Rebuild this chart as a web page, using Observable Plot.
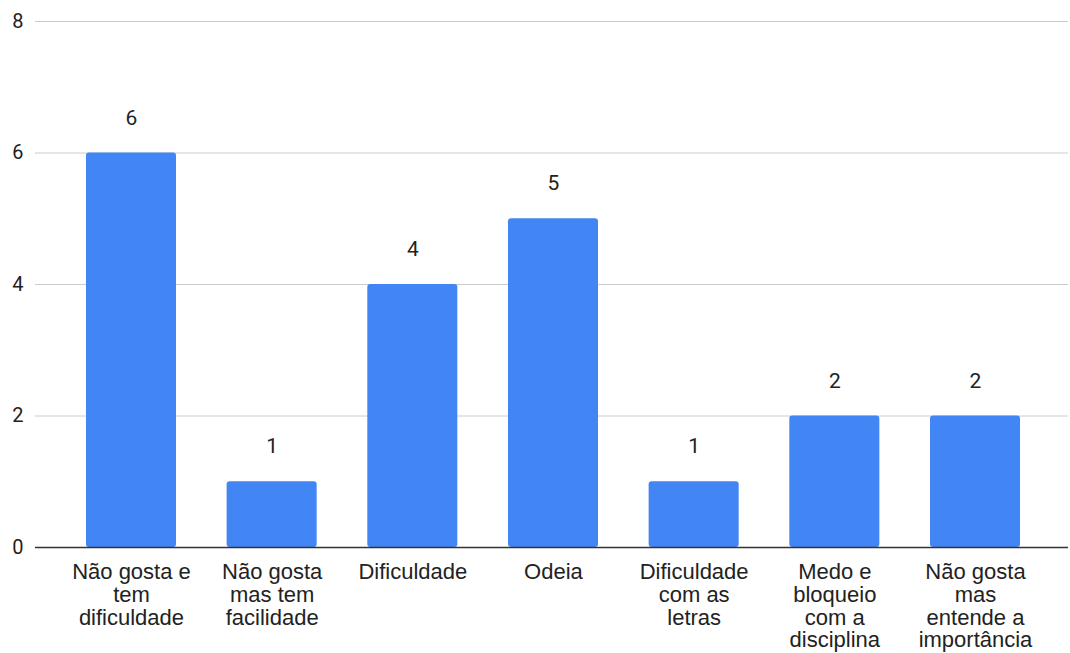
<!DOCTYPE html>
<html>
<head>
<meta charset="utf-8">
<script src="https://cdn.jsdelivr.net/npm/d3@7"></script>
<script src="https://cdn.jsdelivr.net/npm/@observablehq/plot@0.6"></script>
<style>
  html, body { margin: 0; padding: 0; background: #fff; }
  #chart svg { display: block; }
</style>
</head>
<body>
<div id="chart"></div>
<script>
const categories = [
  "Não gosta e tem dificuldade",
  "Não gosta mas tem facilidade",
  "Dificuldade",
  "Odeia",
  "Dificuldade com as letras",
  "Medo e bloqueio com a disciplina",
  "Não gosta mas entende a importância"
];
const tickLabels = [
  "Não gosta e\ntem\ndificuldade",
  "Não gosta\nmas tem\nfacilidade",
  "Dificuldade",
  "Odeia",
  "Dificuldade\ncom as\nletras",
  "Medo e\nbloqueio\ncom a\ndisciplina",
  "Não gosta\nmas\nentende a\nimportância"
];
const values = [6, 1, 4, 5, 1, 2, 2];
const yTicks = [0, 2, 4, 6, 8];

const data = categories.map((c, i) => ({category: c, value: values[i]}));
const labelOf = new Map(categories.map((c, i) => [c, tickLabels[i]]));

const chart = Plot.plot({
  width: 1070,
  height: 653,
  marginLeft: 35,
  marginRight: 2,
  marginTop: 21,
  marginBottom: 106,
  style: {fontFamily: "Roboto, sans-serif", fontSize: "20px", color: "#222", background: "#fff"},
  x: {domain: categories, paddingInner: 0.36, paddingOuter: 0.3517, align: 0.515, round: false, label: null},
  y: {domain: [0, 8], label: null},
  marks: [
    Plot.gridY(yTicks, {stroke: "#ccc", strokeOpacity: 1, strokeWidth: 1}),
    Plot.axisY(yTicks, {tickSize: 0, tickPadding: 12, tickFormat: d3.format("d"), fontSize: 20, fill: "#222", label: null, fontFamily: "Roboto, sans-serif"}),
    Plot.axisX({
      tickSize: 0,
      tickPadding: 15,
      tickFormat: d => labelOf.get(d),
      fontSize: 22,
      lineHeight: 1.04,
      fill: "#222",
      fontFamily: "'Liberation Sans', Arial, sans-serif",
      label: null
    }),
    Plot.barY(data, {x: "category", y: "value", fill: "#4285F4", rx: 3}),
    Plot.ruleY([0], {stroke: "#333", strokeWidth: 1.5}),
    Plot.text(data, {x: "category", y: "value", text: d => String(d.value), dy: -35, fontSize: 21, fill: "#222", fontFamily: "Roboto, sans-serif"})
  ]
});
document.getElementById("chart").appendChild(chart);
</script>
</body>
</html>
